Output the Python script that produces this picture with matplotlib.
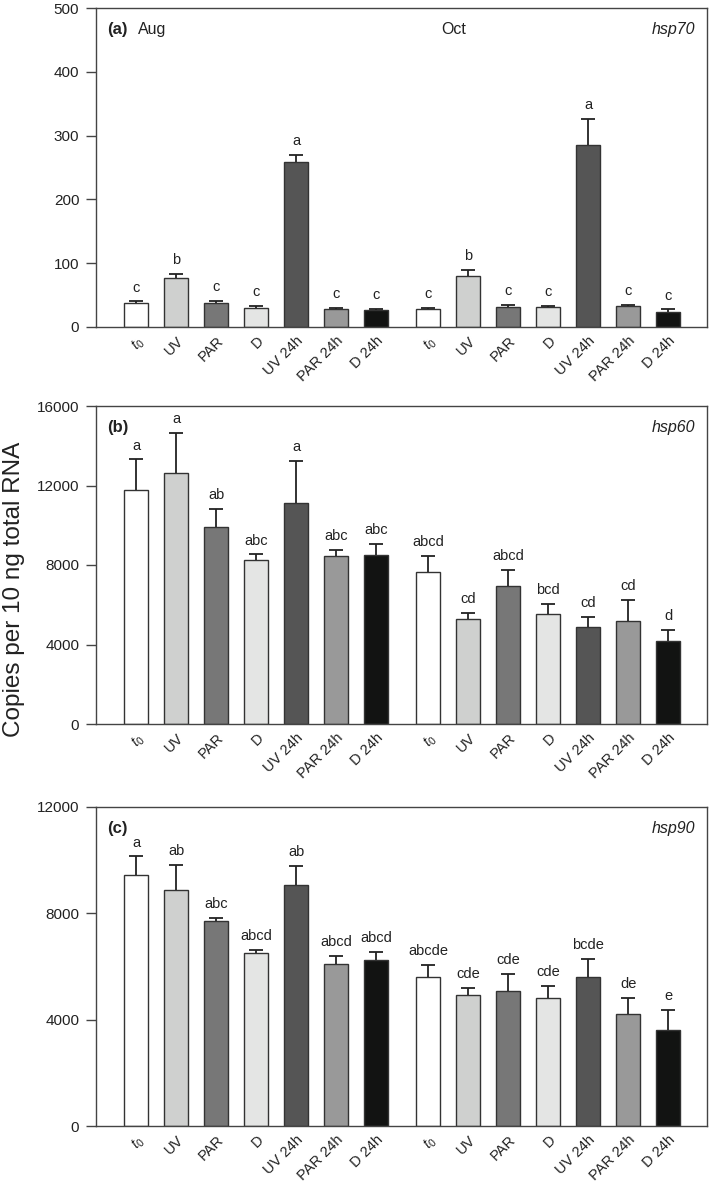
import numpy as np
import matplotlib
matplotlib.use("Agg")
import matplotlib.pyplot as plt

plt.rcParams['font.family'] = ['Liberation Sans', 'DejaVu Sans']
plt.rcParams['mathtext.fontset'] = 'custom'
plt.rcParams['mathtext.rm'] = 'Liberation Sans'
plt.rcParams['mathtext.it'] = 'Liberation Sans:italic'

treatments = ['$\\mathit{t}_0$', 'UV', 'PAR', 'D', 'UV 24h', 'PAR 24h', 'D 24h']
colors = ['#ffffff', '#cfd0cf', '#777777', '#e4e5e4', '#555555', '#999999', '#121312']

# Aug (7 bars) then Oct (7 bars)
hsp70_mean = [38, 77, 37, 30, 259, 28, 26, 28, 80, 32, 32, 286, 33, 24]
hsp70_err = [2, 6, 4, 3.5, 11, 2, 2, 2, 10, 3, 1, 40, 1, 3.5]
hsp70_let = ['c', 'b', 'c', 'c', 'a', 'c', 'c', 'c', 'b', 'c', 'c', 'a', 'c', 'c']

hsp60_mean = [11750, 12640, 9900, 8230, 11110, 8450, 8480,
              7650, 5270, 6930, 5520, 4870, 5200, 4200]
hsp60_err = [1560, 2020, 920, 300, 2110, 300, 600,
             800, 320, 820, 500, 500, 1040, 520]
hsp60_let = ['a', 'a', 'ab', 'abc', 'a', 'abc', 'abc',
             'abcd', 'cd', 'abcd', 'bcd', 'cd', 'cd', 'd']

hsp90_mean = [9430, 8880, 7720, 6510, 9060, 6080, 6240,
              5620, 4920, 5060, 4800, 5590, 4210, 3610]
hsp90_err = [710, 940, 110, 100, 710, 310, 290,
             450, 280, 660, 450, 700, 610, 740]
hsp90_let = ['a', 'ab', 'abc', 'abcd', 'ab', 'abcd', 'abcd',
             'abcde', 'cde', 'cde', 'cde', 'bcde', 'de', 'e']

pos = np.concatenate([np.arange(7), np.arange(7) + 7.3])

W, H = 709, 1185
fig = plt.figure(figsize=(W / 100, H / 100), dpi=100)


def panel(top, bottom, mean, err, let, ymax, step, tag, gene, months):
    ax = fig.add_axes([96 / W, 1 - bottom / H, (707 - 96) / W, (bottom - top) / H])
    mean = np.array(mean, dtype=float)
    err = np.array(err, dtype=float)
    ax.bar(pos, mean, width=0.6, color=colors * 2, edgecolor='#333333',
           linewidth=1.0, zorder=2)
    # upper error bars only
    ax.vlines(pos, mean, mean + err, color='#222222', linewidth=1.3, zorder=3)
    ax.plot(pos, mean + err, linestyle='none', marker='_', markersize=10,
            markeredgewidth=1.3, color='#222222', zorder=3)
    for x, m, e, l in zip(pos, mean, err, let):
        ax.annotate(l, (x, m + e), xytext=(0, 5), textcoords='offset points',
                    ha='center', va='bottom', fontsize=10.5, color='#222222')
    ax.set_xlim(-1.0, 14.27)
    ax.set_ylim(0, ymax)
    ax.set_yticks(np.arange(0, ymax + 1, step))
    ax.set_xticks(pos)
    ax.set_xticklabels(treatments * 2, rotation=45, ha='right', va='top',
                       rotation_mode='anchor', fontsize=10.5, color='#222222')
    ax.tick_params(axis='x', length=0, pad=5)
    ax.tick_params(axis='y', length=7, width=1, color='#444444', labelsize=11,
                   labelcolor='#222222', pad=5)
    for s in ax.spines.values():
        s.set_color('#444444')
        s.set_linewidth(1.0)
    ax.text(0.018, 0.955, tag, transform=ax.transAxes, fontsize=12,
            fontweight='bold', va='top', color='#222222')
    if months:
        ax.text(0.068, 0.955, 'Aug', transform=ax.transAxes, fontsize=11.5,
                va='top', color='#222222')
        ax.text(0.585, 0.955, 'Oct', transform=ax.transAxes, fontsize=11.5,
                va='top', ha='center', color='#222222')
    ax.text(0.98, 0.955, gene, transform=ax.transAxes, fontsize=11.5,
            style='italic', va='top', ha='right', color='#222222')
    return ax


panel(8, 327, hsp70_mean, hsp70_err, hsp70_let, 500, 100, '(a)', 'hsp70', True)
panel(406, 724, hsp60_mean, hsp60_err, hsp60_let, 16000, 4000, '(b)', 'hsp60', False)
panel(807, 1126, hsp90_mean, hsp90_err, hsp90_let, 12000, 4000, '(c)', 'hsp90', False)

fig.text(14 / W, 1 - 589 / H, 'Copies per 10 ng total RNA', rotation=90,
         ha='center', va='center', fontsize=17.5, color='#222222')

fig.savefig('out.png', dpi=100)
